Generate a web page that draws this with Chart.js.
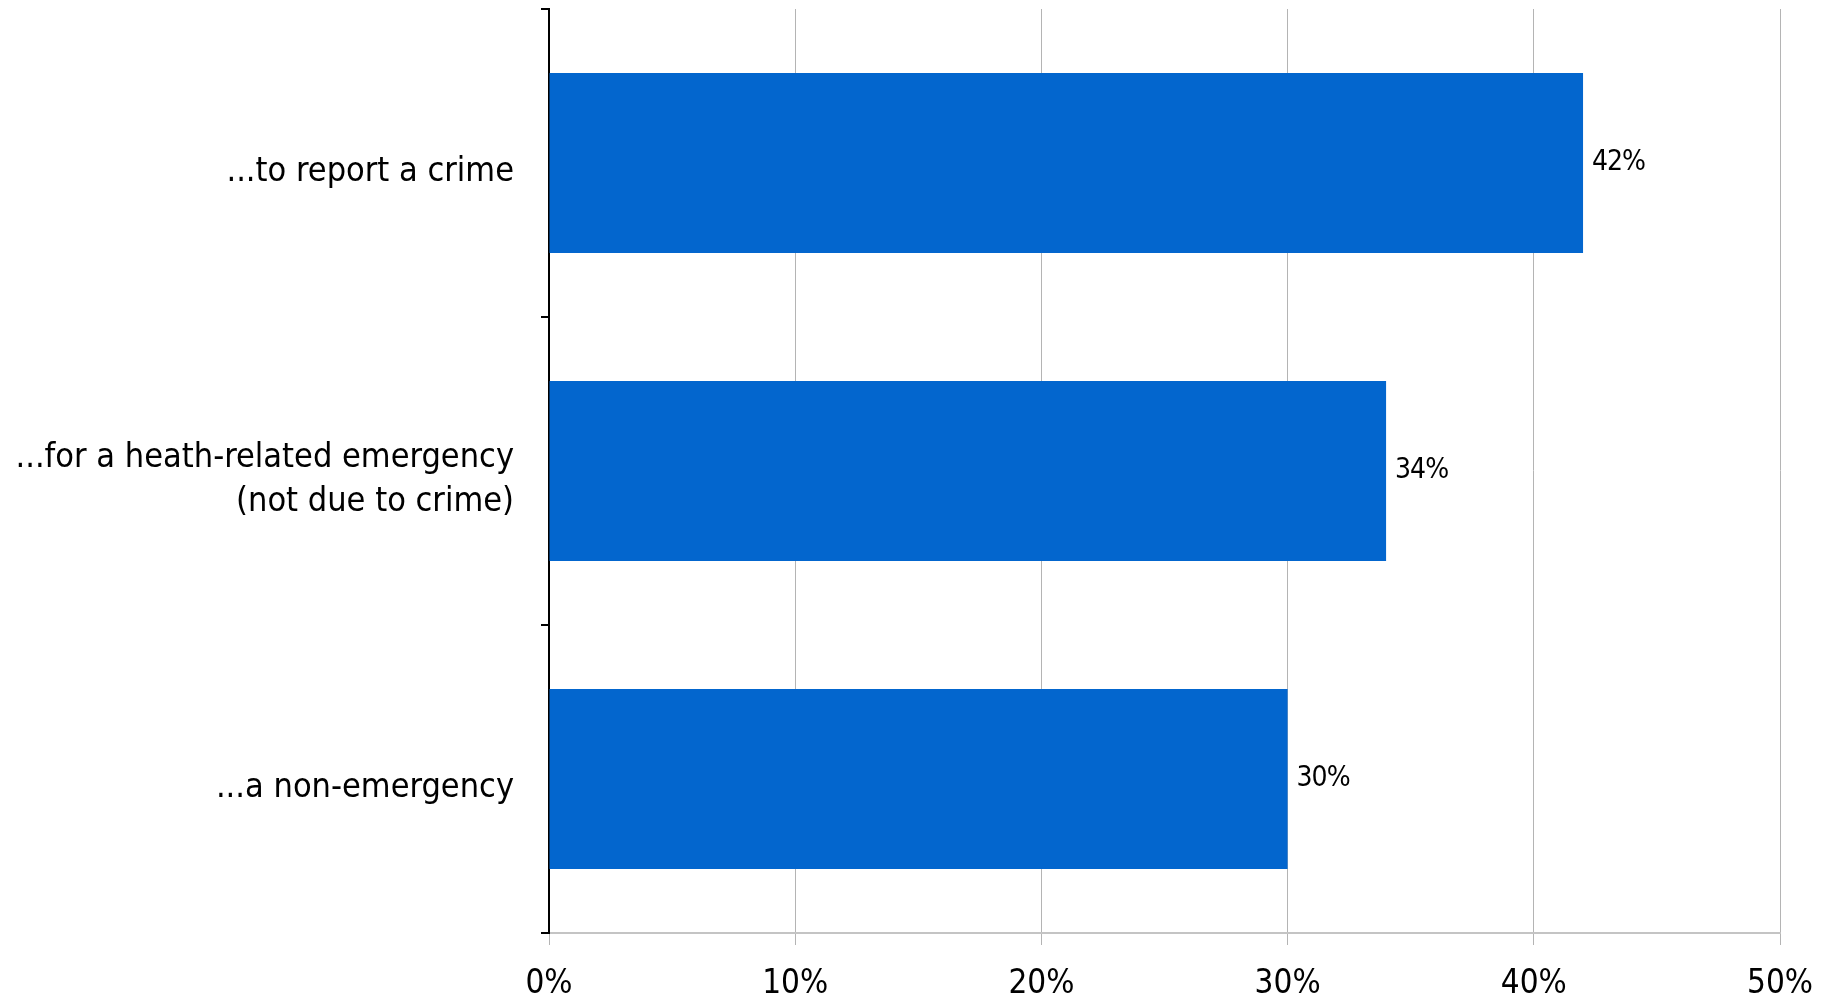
<!DOCTYPE html>
<html>
<head>
<meta charset="utf-8">
<script src="https://cdn.jsdelivr.net/npm/chart.js@4"></script>
<style>
  html, body { margin: 0; padding: 0; background: #fff; }
  #box { width: 1839px; height: 1003px; position: relative; }
</style>
</head>
<body>
<div id="box"><canvas id="grafico"></canvas></div>
<script>
// dados do gráfico
const categorias = [
  "...to report a crime",
  ["...for a heath-related emergency", "(not due to crime)"],
  "...a non-emergency"
];
const valores = [42, 34, 30];
const rotulosX = ["0%", "10%", "20%", "30%", "40%", "50%"];

const fonte = "'Liberation Sans Narrow', 'DejaVu Sans Condensed', Arial, sans-serif";

// rótulos de valor ao lado das barras
const rotulosBarras = {
  id: "rotulosBarras",
  afterDatasetsDraw(chart) {
    const ctx = chart.ctx;
    const meta = chart.getDatasetMeta(0);
    ctx.save();
    ctx.font = "28px " + fonte;
    ctx.letterSpacing = "-1px";
    ctx.fillStyle = "#000";
    ctx.textBaseline = "middle";
    ctx.textAlign = "left";
    meta.data.forEach((bar, i) => {
      ctx.fillText(valores[i] + "%", bar.x + 9, bar.y);
    });
    ctx.restore();
  }
};

const ctx = document.getElementById("grafico").getContext("2d");
new Chart(ctx, {
  type: "bar",
  data: {
    labels: categorias,
    datasets: [{
      data: valores,
      backgroundColor: "#0366ce",
      borderWidth: 0,
      categoryPercentage: 1,
      barPercentage: 0.585
    }]
  },
  options: {
    indexAxis: "y",
    responsive: true,
    maintainAspectRatio: false,
    animation: false,
    layout: { padding: { top: 9, right: 59, left: 0, bottom: 0 } },
    plugins: {
      legend: { display: false },
      tooltip: { enabled: false }
    },
    scales: {
      x: {
        min: 0,
        max: 50,
        ticks: {
          stepSize: 10,
          color: "#000",
          font: { family: fonte, size: 33 },
          padding: 20,
          callback: (v, i) => rotulosX[i]
        },
        grid: { color: "#b4b4b4", lineWidth: 1, tickLength: 12 },
        border: { color: "#c4c4c4", width: 2 },
        afterFit: (s) => { s.height = 70; s.paddingLeft = 0; s.paddingRight = 0; }
      },
      y: {
        offset: true,
        ticks: {
          color: "#000",
          font: { family: fonte, size: 34, lineHeight: 1.3 },
          padding: 27,
          labelOffset: 9
        },
        grid: {
          offset: true,
          drawOnChartArea: false,
          color: "#000",
          lineWidth: 2,
          tickLength: 8
        },
        border: { color: "#000", width: 2 },
        afterFit: (s) => { s.width = 549; s.paddingTop = 0; s.paddingBottom = 0; }
      }
    }
  },
  plugins: [rotulosBarras]
});
</script>
</body>
</html>
